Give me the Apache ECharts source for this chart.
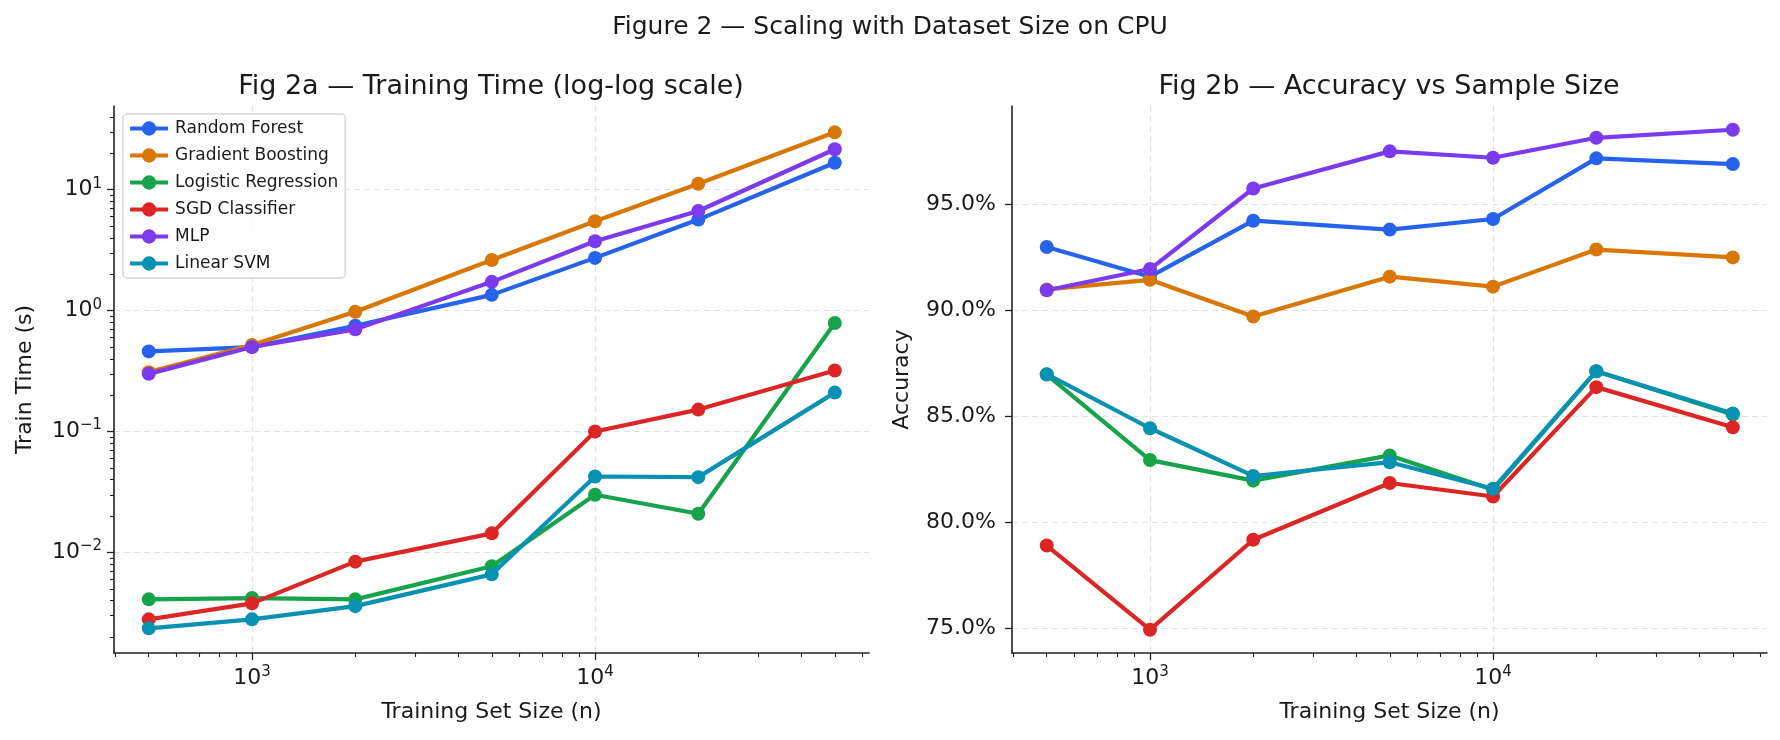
<!DOCTYPE html>
<html>
<head>
<meta charset="utf-8">
<script src="https://cdn.jsdelivr.net/npm/echarts@6/dist/echarts.min.js"></script>
<style>
  html, body { margin: 0; padding: 0; background: #fff; }
  #chart { width: 1780px; height: 740px; }
</style>
</head>
<body>
<div id="chart"></div>
<script>
// ---------------- data ----------------
const sizes = [500, 1000, 2000, 5000, 10000, 20000, 50000];
const models = ['Random Forest', 'Gradient Boosting', 'Logistic Regression', 'SGD Classifier', 'MLP', 'Linear SVM'];
const colors = ['#2563eb', '#d97706', '#16a34a', '#dc2626', '#7c3aed', '#0891b2'];

// Training time (seconds)
const timeRF  = [0.46, 0.50, 0.75, 1.35, 2.73, 5.66, 16.7];
const timeGB  = [0.31, 0.52, 0.98, 2.62, 5.48, 11.2, 29.8];
const timeLR  = [0.0041, 0.0042, 0.0041, 0.0077, 0.030, 0.0209, 0.79];
const timeSGD = [0.0028, 0.0038, 0.0084, 0.0144, 0.100, 0.152, 0.32];
const timeMLP = [0.30, 0.50, 0.70, 1.73, 3.75, 6.66, 21.6];
const timeSVM = [0.00236, 0.0028, 0.0036, 0.0066, 0.0425, 0.042, 0.21];

// Accuracy (fraction)
const accRF  = [0.9300, 0.9160, 0.9424, 0.9382, 0.9432, 0.9718, 0.9691];
const accGB  = [0.9100, 0.9145, 0.8972, 0.9160, 0.9113, 0.9288, 0.9251];
const accLR  = [0.8698, 0.8295, 0.8198, 0.8317, 0.8155, 0.8714, 0.8510];
const accSGD = [0.7892, 0.7495, 0.7919, 0.8187, 0.8123, 0.8639, 0.8450];
const accMLP = [0.9096, 0.9196, 0.9576, 0.9751, 0.9721, 0.9815, 0.9853];
const accSVM = [0.8700, 0.8445, 0.8220, 0.8285, 0.8160, 0.8714, 0.8515];

// tick values
const xMajorTicks = [1000, 10000];
const xMinorTicks = [400, 500, 600, 700, 800, 900, 2000, 3000, 4000, 5000, 6000, 7000, 8000, 9000, 20000, 30000, 40000, 50000, 60000];
const yTimeMajorTicks = [0.01, 0.1, 1, 10];
const yTimeMinorTicks = [0.002, 0.003, 0.004, 0.005, 0.006, 0.007, 0.008, 0.009,
  0.02, 0.03, 0.04, 0.05, 0.06, 0.07, 0.08, 0.09,
  0.2, 0.3, 0.4, 0.5, 0.6, 0.7, 0.8, 0.9,
  2, 3, 4, 5, 6, 7, 8, 9, 20, 30, 40];
const yAccTicks = [0.75, 0.80, 0.85, 0.90, 0.95];

const timeSeries = [timeRF, timeGB, timeLR, timeSGD, timeMLP, timeSVM];
const accSeries = [accRF, accGB, accLR, accSGD, accMLP, accSVM];

// ---------------- chart ----------------
const FONT = 'DejaVu Sans';
const INK = '#1a1a1a';
const gridLine = { show: true, lineStyle: { color: '#e2e2e2', width: 1.2, type: [6, 4] } };

const powRich = {
  b: { fontFamily: FONT, fontSize: 22, lineHeight: 27, color: INK },
  s: { fontFamily: FONT, fontSize: 15, lineHeight: 15, color: INK, verticalAlign: 'top' }
};
function powLabel(v) {
  const e = Math.round(Math.log10(v));
  const es = e < 0 ? '\u2212' + Math.abs(e) : String(e);
  return '{b|10}{s|' + es + '}';
}

const X_MIN = 396, X_MAX = 62900;

function majorX(gridIndex) {
  return {
    type: 'log', logBase: 10, gridIndex: gridIndex, min: X_MIN, max: X_MAX, position: 'bottom',
    name: 'Training Set Size (n)', nameLocation: 'middle', nameGap: 48,
    nameTextStyle: { fontFamily: FONT, fontSize: 22, color: INK },
    axisLine: { show: true, lineStyle: { color: '#222', width: 1.6 } },
    axisTick: { show: true, length: 7, lineStyle: { color: '#222', width: 1.3 }, customValues: xMajorTicks },
    axisLabel: { show: true, margin: 12, formatter: powLabel, rich: powRich, customValues: xMajorTicks, hideOverlap: false },
    splitLine: gridLine, minorTick: { show: false }, minorSplitLine: { show: false }
  };
}
function minorX(gridIndex) {
  return {
    type: 'log', logBase: 10, gridIndex: gridIndex, min: X_MIN, max: X_MAX, position: 'bottom',
    axisLine: { show: false },
    axisTick: { show: true, length: 4, lineStyle: { color: '#222', width: 1.1 }, customValues: xMinorTicks },
    axisLabel: { show: false },
    splitLine: { show: false }
  };
}

const option = {
  animation: false,
  backgroundColor: '#ffffff',
  textStyle: { fontFamily: FONT },
  title: [
    { text: 'Figure 2 \u2014 Scaling with Dataset Size on CPU', left: 890, top: 15, textAlign: 'center', padding: 0,
      textStyle: { fontFamily: FONT, fontSize: 25, fontWeight: 'normal', color: INK } },
    { text: 'Fig 2a \u2014 Training Time (log-log scale)', left: 491, top: 73, textAlign: 'center', padding: 0,
      textStyle: { fontFamily: FONT, fontSize: 27, fontWeight: 'normal', color: INK } },
    { text: 'Fig 2b \u2014 Accuracy vs Sample Size', left: 1389, top: 73, textAlign: 'center', padding: 0,
      textStyle: { fontFamily: FONT, fontSize: 27, fontWeight: 'normal', color: INK } }
  ],
  legend: {
    data: models, orient: 'vertical', left: 123, top: 114,
    itemWidth: 38, itemHeight: 18, itemGap: 10,
    padding: [6, 7, 6, 5],
    lineStyle: { width: 4.2 },
    backgroundColor: 'rgba(255,255,255,0.85)', borderColor: '#d3d3d3', borderWidth: 1.3, borderRadius: 4,
    textStyle: { fontFamily: FONT, fontSize: 17, color: INK, padding: [0, 0, 0, 2] },
    selectedMode: false
  },
  grid: [
    { left: 114, top: 106, width: 755, height: 547 },
    { left: 1012, top: 106, width: 755, height: 547 }
  ],
  xAxis: [majorX(0), minorX(0), majorX(1), minorX(1)],
  yAxis: [
    {
      type: 'log', logBase: 10, gridIndex: 0, min: 0.001476, max: 49.2,
      name: 'Train Time (s)', nameLocation: 'middle', nameGap: 78, nameRotate: 90,
      nameTextStyle: { fontFamily: FONT, fontSize: 22, color: INK },
      axisLine: { show: true, lineStyle: { color: '#222', width: 1.6 } },
      axisTick: { show: true, length: 7, lineStyle: { color: '#222', width: 1.3 }, customValues: yTimeMajorTicks },
      axisLabel: { show: true, margin: 12, formatter: powLabel, rich: powRich, customValues: yTimeMajorTicks, hideOverlap: false },
      splitLine: gridLine
    },
    {
      type: 'log', logBase: 10, gridIndex: 0, min: 0.001476, max: 49.2, position: 'left',
      axisLine: { show: false },
      axisTick: { show: true, length: 4, lineStyle: { color: '#222', width: 1.1 }, customValues: yTimeMinorTicks },
      axisLabel: { show: false },
      splitLine: { show: false }
    },
    {
      type: 'value', gridIndex: 1, min: 0.7385, max: 0.9965,
      name: 'Accuracy', nameLocation: 'middle', nameGap: 99, nameRotate: 90,
      nameTextStyle: { fontFamily: FONT, fontSize: 22, color: INK },
      axisLine: { show: true, lineStyle: { color: '#222', width: 1.6 } },
      axisTick: { show: true, length: 7, lineStyle: { color: '#222', width: 1.3 }, customValues: yAccTicks },
      axisLabel: { show: true, margin: 16, fontFamily: FONT, fontSize: 22, color: INK, customValues: yAccTicks,
        formatter: function (v) { return (v * 100).toFixed(1) + '%'; } },
      splitLine: gridLine
    }
  ],
  series: []
};

models.forEach(function (name, i) {
  const base = {
    name: name, type: 'line', symbol: 'circle', symbolSize: 14, showSymbol: true,
    lineStyle: { width: 4.2, color: colors[i] }, itemStyle: { color: colors[i] },
    emphasis: { disabled: true }, z: 3 + i
  };
  option.series.push(Object.assign({}, base, {
    xAxisIndex: 0, yAxisIndex: 0,
    data: sizes.map(function (s, k) { return [s, timeSeries[i][k]]; })
  }));
  option.series.push(Object.assign({}, base, {
    xAxisIndex: 2, yAxisIndex: 2,
    data: sizes.map(function (s, k) { return [s, accSeries[i][k]]; })
  }));
});

const chart = echarts.init(document.getElementById('chart'), null, { renderer: 'canvas' });
chart.setOption(option);
</script>
</body>
</html>
